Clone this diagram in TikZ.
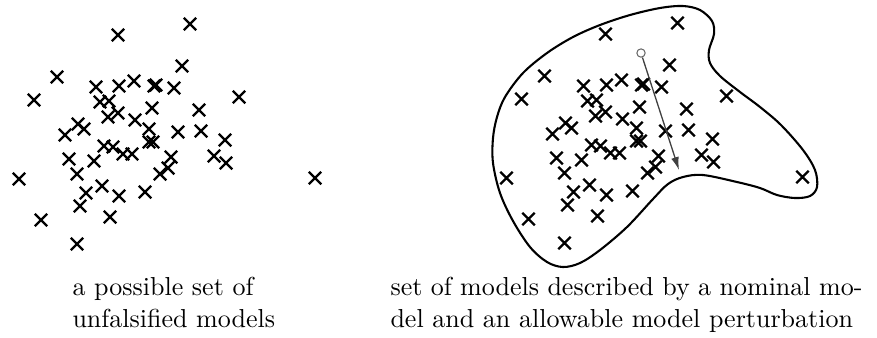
\documentclass[tikz,border=0pt]{standalone}
\usetikzlibrary{shapes.misc,arrows.meta}

\begin{document}
\begin{tikzpicture}[x=0.3846pt,y=-0.3846pt,every node/.style={font=\normalsize}]

    % Styles
    \tikzstyle{model_mark} = [cross out, draw=black, line width=0.9pt,
        minimum size=3.9pt, inner sep=0pt]
    \tikzstyle{set_line} = [draw=black, line width=0.8pt]
    \tikzstyle{nominal_dot} = [circle, draw=black!60, line width=0.4pt,
        minimum size=3.2pt, inner sep=0pt]
    \tikzstyle{caption_txt} = [anchor=north west, inner sep=0pt]

    % Unfalsified models (same cloud in both panels)
    \def\modelpts{190/24, 118/35, 182/66, 57/77, 96/87, 119/86, 134/81,
        154/86, 156/85, 174/88, 34/100, 239/97, 100/102, 109/101, 152/108,
        199/110, 118/113, 108/117, 135/120, 78/124, 84/129, 65/135, 149/129,
        178/132, 201/131, 225/140, 149/142, 153/142, 104/146, 113/147,
        123/154, 132/154, 69/159, 94/161, 171/157, 214/156, 226/163, 168/168,
        160/174, 19/179, 77/174, 315/178, 102/186, 86/193, 119/196, 145/192,
        80/206, 41/220, 110/217, 77/244}

    \useasboundingbox (0,0) rectangle (877,337);

    % Left panel
    \foreach \x/\y [count=\i] in \modelpts
        \node[model_mark] (l\i) at (\x,\y) {};

    % Right panel: shifted copy of the cloud
    \begin{scope}[shift={(487.5,-1)}]
        \foreach \x/\y [count=\i] in \modelpts
            \node[model_mark] (r\i) at (\x,\y) {};
    \end{scope}

    % Set described by nominal model + perturbation
    \draw[set_line] plot[smooth cycle, tension=0.55] coordinates {
        (683,6) (700,10) (712,21) (714,34) (709,50) (710,63) (720,76)
        (740,92) (760,107) (781,125) (803,150) (815,170) (817,187)
        (810,196) (795,198) (777,195) (760,188) (737,182) (703,175)
        (683,177) (668,184) (653,199) (627,227) (600,250) (580,263)
        (563,267) (547,262) (530,247) (513,221) (500,193) (493,163)
        (493,138) (497,117) (505,97) (523,73) (547,53) (573,37) (600,25)
        (630,15) (660,8)};

    % Nominal model and perturbation
    \node[nominal_dot] (nom) at (641,53) {};
    \coordinate (pert) at (679,170);
    \draw[black!75, line width=0.5pt, -{Latex[length=5pt,width=3pt]}] (nom) -- (pert);

    % Captions
    \node[caption_txt, align=left] (capl) at (72,277)
        {a possible set of\\ unfalsified models};
    \node[caption_txt, text width=181.5pt, align=justify] (capr) at (390,277)
        {set of models described by a nominal mo-\linebreak del and an allowable model perturbation};

\end{tikzpicture}
\end{document}
